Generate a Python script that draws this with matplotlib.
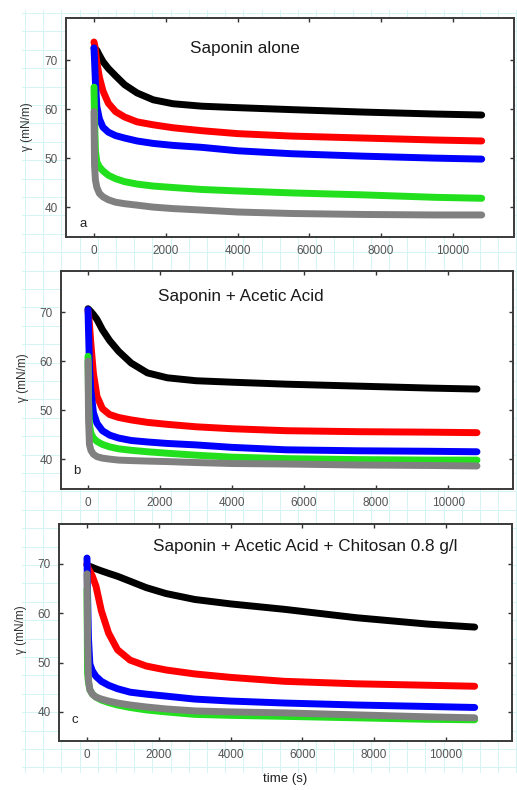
import matplotlib
matplotlib.use("Agg")
import matplotlib.pyplot as plt

W, H = 517, 790
plt.rcParams['font.family'] = ['Liberation Sans', 'DejaVu Sans']

# sampling times (s) shared by every curve
t_all = [0, 15, 40, 80, 150, 250, 400, 600, 850, 1200, 1650, 2200, 3000,
         4000, 5500, 7500, 9500, 10800]

# (a) Saponin alone
a_black = [72.5, 72.5, 72.3, 72.0, 71.0, 69.7, 68.3, 66.8, 65.0, 63.3, 61.9, 61.1, 60.6, 60.3, 59.9, 59.4, 59.0, 58.8]
a_red   = [73.7, 73.2, 72.0, 69.5, 66.5, 63.7, 61.2, 59.5, 58.4, 57.4, 56.8, 56.2, 55.6, 55.0, 54.5, 54.1, 53.7, 53.5]
a_blue  = [72.5, 70.0, 65.5, 60.5, 58.0, 56.3, 55.3, 54.6, 54.1, 53.5, 53.0, 52.6, 52.2, 51.5, 50.9, 50.4, 50.0, 49.8]
a_green = [64.5, 58.0, 51.5, 49.2, 48.2, 47.4, 46.5, 45.8, 45.2, 44.7, 44.3, 44.0, 43.6, 43.3, 42.9, 42.5, 42.0, 41.8]
a_gray  = [59.5, 48.5, 45.5, 44.0, 42.8, 42.1, 41.5, 41.0, 40.7, 40.4, 40.0, 39.7, 39.4, 39.0, 38.7, 38.5, 38.4, 38.4]

# (b) Saponin + Acetic Acid
b_black = [70.7, 70.6, 70.4, 70.1, 69.5, 68.5, 66.4, 64.2, 62.0, 59.6, 57.6, 56.6, 56.0, 55.7, 55.3, 54.9, 54.5, 54.3]
b_red   = [70.3, 69.5, 67.5, 63.5, 57.5, 52.8, 50.3, 49.1, 48.5, 48.0, 47.5, 47.1, 46.6, 46.2, 45.8, 45.6, 45.5, 45.4]
b_blue  = [70.5, 66.0, 59.0, 54.0, 49.5, 47.3, 45.8, 44.9, 44.3, 43.8, 43.5, 43.2, 42.9, 42.4, 41.9, 41.7, 41.6, 41.5]
b_green = [61.0, 52.0, 47.0, 45.3, 44.3, 43.6, 43.0, 42.5, 42.1, 41.8, 41.5, 41.2, 40.8, 40.4, 40.1, 39.9, 39.8, 39.8]
b_gray  = [60.0, 48.0, 43.0, 41.8, 41.0, 40.5, 40.2, 40.0, 39.8, 39.7, 39.6, 39.5, 39.3, 39.1, 39.0, 38.8, 38.7, 38.6]

# (c) Saponin + Acetic Acid + Chitosan 0.8 g/l
c_black = [69.8, 69.7, 69.6, 69.5, 69.3, 69.0, 68.6, 68.1, 67.5, 66.5, 65.2, 64.0, 62.8, 61.9, 60.8, 59.1, 57.8, 57.2]
c_red   = [70.0, 69.5, 69.0, 68.5, 67.5, 65.5, 60.5, 56.0, 52.6, 50.5, 49.3, 48.5, 47.7, 47.0, 46.2, 45.7, 45.4, 45.2]
c_blue  = [71.2, 64.0, 55.0, 49.7, 48.3, 47.2, 46.2, 45.4, 44.7, 44.0, 43.6, 43.2, 42.6, 42.2, 41.8, 41.4, 41.1, 40.9]
c_green = [65.0, 48.0, 46.0, 44.5, 43.6, 43.0, 42.4, 41.9, 41.4, 40.9, 40.4, 40.0, 39.5, 39.3, 39.1, 38.8, 38.5, 38.4]
c_gray  = [68.0, 55.0, 46.5, 44.5, 43.6, 43.0, 42.6, 42.2, 41.8, 41.4, 41.0, 40.6, 40.2, 40.0, 39.8, 39.4, 39.0, 38.8]

titles = ["Saponin alone", "Saponin + Acetic Acid",
          "Saponin + Acetic Acid + Chitosan 0.8 g/l"]
letters = ["a", "b", "c"]
x_ticks = [0, 2000, 4000, 6000, 8000, 10000]
y_ticks = [40, 50, 60, 70]

colors = ["#000000", "#ff0000", "#0000ff", "#22e01e", "#808080"]

panels = [
    [a_black, a_red, a_blue, a_green, a_gray],
    [b_black, b_red, b_blue, b_green, b_gray],
    [c_black, c_red, c_blue, c_green, c_gray],
]

fig = plt.figure(figsize=(W / 100, H / 100), dpi=100)


def fx(x):
    return x / W


def fy(y):
    return 1 - y / H


# graph-paper backdrop
bg = fig.add_axes([0, 0, 1, 1])
bg.set_xlim(0, W)
bg.set_ylim(H, 0)
bg.axis("off")
grid_c = "#d4f5f5"
gx = 25
while gx <= W:
    bg.plot([gx, gx], [10, 772], color=grid_c, lw=0.7, zorder=0)
    gx += 18.2
gy = 13
while gy <= 772:
    bg.plot([22, W], [gy, gy], color=grid_c, lw=0.7, zorder=0)
    gy += 18.4

# axes boxes in pixel units: left, right, top, bottom, xlim, ylim
boxes = [
    (66, 514, 18, 237, (-780, 11700), (33.9, 78.6)),
    (61, 513, 271, 489, (-750, 11800), (33.9, 78.4)),
    (59, 512, 524, 741, (-780, 11840), (34.1, 78.1)),
]
title_pos = [(245, 48), (241, 297), (305, 547)]
letter_pos = [(83, 224), (77, 471), (75, 720)]
ylab_pos = [(27, 127), (23, 378), (21, 630)]

for series, (l, r, top, bot, xl, yl), title, tp, let, lp, yp in zip(
        panels, boxes, titles, title_pos, letters, letter_pos, ylab_pos):
    ax = fig.add_axes([fx(l), fy(bot), fx(r) - fx(l), fy(top) - fy(bot)])
    ax.set_facecolor("white")
    for vals, col in zip(series, colors):
        ax.plot(t_all, vals, color=col, lw=5.0, solid_capstyle="round",
                solid_joinstyle="round")
    ax.set_xlim(*xl)
    ax.set_ylim(*yl)
    ax.set_xticks(x_ticks)
    ax.set_yticks(y_ticks)
    ax.tick_params(direction="in", length=3, width=1, top=True, right=True,
                   labelsize=8.5, labelcolor="#555555", color="#333333", pad=6)
    for sp in ax.spines.values():
        sp.set_color("#3a3a3a")
        sp.set_linewidth(1.4)
    fig.text(fx(tp[0]), fy(tp[1]), title, fontsize=12.3, color="#1a1a1a",
             ha="center", va="center")
    fig.text(fx(lp[0]), fy(lp[1]), let, fontsize=9.5, color="#222222",
             ha="center", va="center")
    fig.text(fx(yp[0]), fy(yp[1]), "γ (mN/m)", fontsize=8.5, color="#333333",
             rotation=90, ha="center", va="center")

fig.text(fx(285), fy(779), "time (s)", fontsize=9.5, color="#222222",
         ha="center", va="center")

fig.savefig("out.png", dpi=100)
